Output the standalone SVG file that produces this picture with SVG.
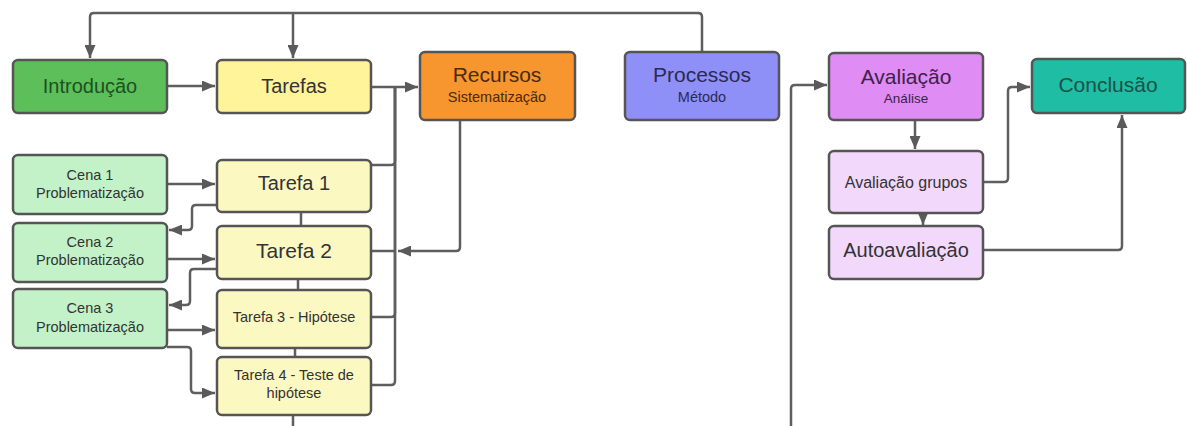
<svg xmlns="http://www.w3.org/2000/svg" width="1187" height="426" viewBox="0 0 1187 426">
<defs>
<marker id="ah" markerUnits="userSpaceOnUse" markerWidth="13" markerHeight="11" refX="13" refY="5.5" orient="auto"><path d="M0,0 L13,5.5 L0,11 z" fill="#5a5a5a"/></marker>
<style>
.box{stroke:#555;stroke-width:2.5}
.c{fill:none;stroke:#5e5e5e;stroke-width:2.5}
.a{marker-end:url(#ah)}
text{font-family:"Liberation Sans",Arial,sans-serif;fill:#333;text-anchor:middle}
.big{font-size:20px}
.sm{font-size:14.5px}
</style>
</defs>
<rect width="1187" height="426" fill="#fff"/>
<g id="connectors">
<path class="c a" d="M702 52 V17 Q702 13 698 13 H94 Q90 13 90 17 V58"/>
<path class="c a" d="M293 13 V58"/>
<path class="c a" d="M167 86 H215"/>
<path class="c a" d="M371 87 H418"/>
<path class="c" d="M371 165 H391 Q395 165 395 161 V87"/>
<path class="c" d="M371 251 H395"/>
<path class="c" d="M371 317 H391 Q395 317 395 313 V87"/>
<path class="c" d="M371 385 H391 Q395 385 395 381 V87"/>
<path class="c a" d="M460 120 V247 Q460 251 456 251 H398"/>
<path class="c a" d="M167 184 H215"/>
<path class="c a" d="M167 259 H215"/>
<path class="c a" d="M167 330 H215"/>
<path class="c a" d="M167 347 H187 Q191 347 191 351 V389 Q191 393 195 393 H215"/>
<path class="c a" d="M217 205 H196 Q192 205 192 209 V226 Q192 230 188 230 H169"/>
<path class="c a" d="M217 269 H194 Q190 269 190 273 V301 Q190 305 186 305 H169"/>
<path class="c" d="M301 212 V226"/>
<path class="c" d="M298 279 V290"/>
<path class="c" d="M295 348 V357"/>
<path class="c" d="M293 415 V426"/>
<path class="c a" d="M791 426 V89 Q791 85 795 85 H827"/>
<path class="c a" d="M915 120 V149"/>
<path class="c a" d="M923 211 V225"/>
<path class="c a" d="M983 182 H1004 Q1008 182 1008 178 V91 Q1008 87 1012 87 H1030"/>
<path class="c a" d="M983 250 H1118 Q1122 250 1122 246 V115"/>
</g>
<g id="introducao"><rect class="box" x="13" y="60" width="154" height="53" rx="5" fill="#5cbf5a"/><text class="big" x="90" y="93" style="fill:#1f4f22">Introdução</text></g>
<g id="tarefas"><rect class="box" x="217" y="60" width="154" height="53" rx="5" fill="#fff49a"/><text class="big" x="294" y="93">Tarefas</text></g>
<g id="recursos"><rect class="box" x="420" y="52" width="155" height="68" rx="5" fill="#f7952f"/><text style="font-size:21px;fill:#4a2a10" x="497" y="82">Recursos</text><text class="sm" style="fill:#4a2a10" x="497" y="102">Sistematização</text></g>
<g id="processos"><rect class="box" x="625" y="52" width="154" height="68" rx="5" fill="#8f8ff8"/><text style="font-size:21px;fill:#2a2a55" x="702" y="82">Processos</text><text class="sm" style="fill:#2a2a55" x="702" y="102">Método</text></g>
<g id="avaliacao"><rect class="box" x="829" y="53" width="154" height="67" rx="5" fill="#df8cf5"/><text style="font-size:21px;fill:#3d2148" x="906" y="84">Avaliação</text><text style="font-size:13.5px;fill:#3d2148" x="906" y="103">Análise</text></g>
<g id="conclusao"><rect class="box" x="1032" y="59" width="153" height="54" rx="5" fill="#1fbda3"/><text style="font-size:21px;fill:#1a5249" x="1108" y="92">Conclusão</text></g>
<g id="avaliacao-grupos"><rect class="box" x="829" y="151" width="154" height="62" rx="5" fill="#f2d8fb"/><text style="font-size:16px" x="906" y="188">Avaliação grupos</text></g>
<g id="autoavaliacao"><rect class="box" x="829" y="226" width="154" height="53" rx="5" fill="#f2d8fb"/><text class="big" x="906" y="257">Autoavaliação</text></g>
<g id="cena1"><rect class="box" x="13" y="155" width="154" height="59" rx="5" fill="#c3f2c8"/><text class="sm" x="90" y="180">Cena 1</text><text class="sm" x="90" y="198">Problematização</text></g>
<g id="cena2"><rect class="box" x="13" y="223" width="154" height="59" rx="5" fill="#c3f2c8"/><text class="sm" x="90" y="247">Cena 2</text><text class="sm" x="90" y="265">Problematização</text></g>
<g id="cena3"><rect class="box" x="13" y="289" width="154" height="59" rx="5" fill="#c3f2c8"/><text class="sm" x="90" y="313">Cena 3</text><text class="sm" x="90" y="332">Problematização</text></g>
<g id="tarefa1"><rect class="box" x="217" y="160" width="154" height="52" rx="5" fill="#fcf8c2"/><text class="big" x="294" y="190">Tarefa 1</text></g>
<g id="tarefa2"><rect class="box" x="217" y="226" width="154" height="53" rx="5" fill="#fcf8c2"/><text style="font-size:21px" x="294" y="258">Tarefa 2</text></g>
<g id="tarefa3"><rect class="box" x="217" y="290" width="154" height="58" rx="5" fill="#fcf8c2"/><text class="sm" x="294" y="322">Tarefa 3 - Hipótese</text></g>
<g id="tarefa4"><rect class="box" x="217" y="357" width="154" height="58" rx="5" fill="#fcf8c2"/><text class="sm" x="294" y="380">Tarefa 4 - Teste de</text><text class="sm" x="294" y="398">hipótese</text></g>
</svg>
